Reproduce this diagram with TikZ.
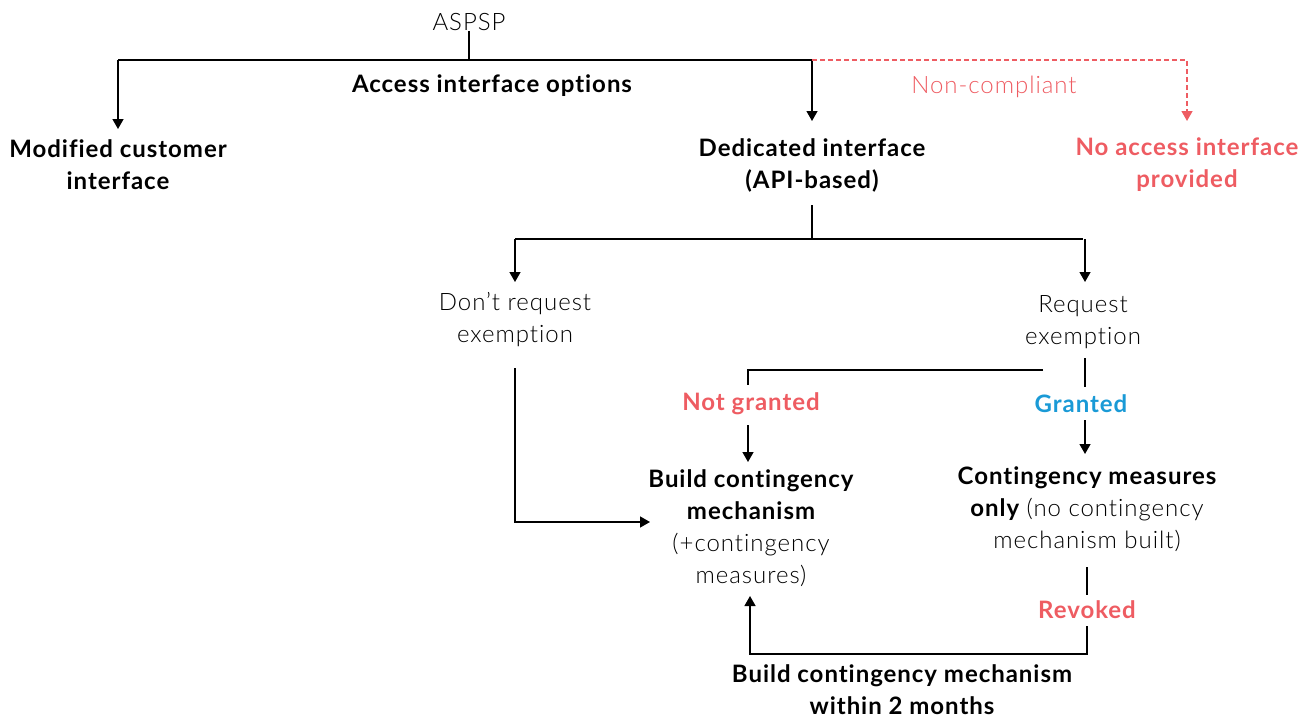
\documentclass[tikz,border=0pt]{standalone}
\usepackage{fontspec}
\setmainfont{Lato}[LetterSpace=4,Ligatures={TeX,NoCommon}]
\newfontfamily\lightfont{Lato Light}[LetterSpace=4,Ligatures={TeX,NoCommon}]
\usetikzlibrary{arrows.meta}
\definecolor{rred}{HTML}{EE5C62}
\definecolor{bblue}{HTML}{1A9AD6}
\tikzset{
  txt/.style={inner sep=0pt, align=center, font=\fontsize{24}{32}\selectfont},
  lt/.style={txt, font=\fontsize{24}{32}\selectfont\lightfont},
  bd/.style={txt, font=\fontsize{24}{32}\selectfont\bfseries},
  conn/.style={line width=1.4pt, black},
  arr/.style={conn, -{Triangle[width=11pt,length=10pt]}},
  redarr/.style={line width=1.4pt, rred, dash pattern=on 5pt off 3pt, -{Triangle[width=11pt,length=10pt]}}
}
\begin{document}
\begin{tikzpicture}[x=1pt,y=-1pt]
\useasboundingbox (0,0) rectangle (1316,720);
% nodes
\node[lt] (aspsp) at (469,22) {ASPSP};
\node[bd] (opts) at (492,86) {Access interface options};
\node[bd] (mod) at (118,165) {Modified customer\\interface};
\node[bd] (ded) at (812,165) {Dedicated interface\\(API-based)};
\node[lt, text=rred] (nc) at (994,87) {Non-compliant};
\node[bd, text=rred] (noacc) at (1187,165) {No access interface\\provided};
\node[lt] (dont) at (515,320) {Don’t request\\exemption};
\node[lt] (req) at (1083,322) {Request\\exemption};
\node[bd, text=rred] (ng) at (751,404) {Not granted};
\node[bd, text=bblue] (gr) at (1081,404) {Granted};
\node[lt] (build) at (751,528) {{\normalfont\bfseries Build contingency}\\{\normalfont\bfseries mechanism}\\(+contingency\\measures)};
\node[lt] (only) at (1087,509) {{\normalfont\bfseries Contingency measures}\\{\normalfont\bfseries only} (no contingency\\mechanism built)};
\node[bd, text=rred] (rev) at (1087,610) {Revoked};
\node[bd] (within) at (902,690) {Build contingency mechanism\\within 2 months};
% junctions
\coordinate (t) at (465,60);
\coordinate (d) at (812,239);
\coordinate (e) at (748,370);
\coordinate (f) at (750,654);
% top level
\draw[conn] (aspsp.south) -- (aspsp.south|-t);
\draw[conn] (mod.north|-t) -- (ded.north|-t);
\draw[arr] (mod.north|-t) -- ++(0,69);
\draw[arr] (ded.north|-t) -- ++(0,61);
\draw[redarr] (ded.north|-t) -- (noacc.north|-t) -- ++(0,61);
% dedicated branches
\draw[conn] (812,205) -- (d);
\draw[conn] (dont.north|-d) -- (req.north|-d);
\draw[arr] (dont.north|-d) -- ++(0,43);
\draw[arr] (1085,239) -- ++(0,43);
% don't request
\draw[arr] (515,368) -- (515,522) -- (650,522);
% request exemption
\draw[conn] (1043,370) -- (e) -- ++(0,15);
\draw[arr] (748,425) -- (748,462);
\draw[conn] (1085,358) -- (1085,387);
\draw[arr] (1085,420) -- (1085,454);
% revoked
\draw[conn] (1087,567) -- (1087,595);
\draw[arr] (1087,626) -- (1087,654) -- (f) -- (750,596);
\end{tikzpicture}
\end{document}
